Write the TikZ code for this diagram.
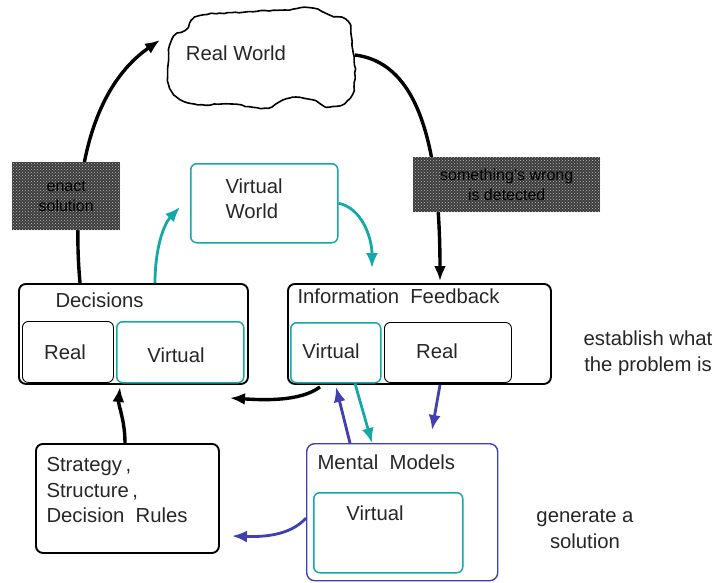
\documentclass[tikz,border=0pt]{standalone}
\usepackage{fontspec}
\setmainfont{Liberation Sans}
\usetikzlibrary{arrows.meta,decorations.pathmorphing,patterns,calc}
\definecolor{tealc}{RGB}{20,168,168}
\definecolor{bluec}{RGB}{64,64,176}
\definecolor{grayc}{RGB}{60,60,60}
\begin{document}
\begin{tikzpicture}[x=1pt,y=-1pt,
  every node/.style={font=\fontsize{20.3}{25.5}\selectfont, text=black!85},
  bbox/.style={draw=black, line width=1.9pt, rounded corners=7pt, anchor=north west, inner sep=0pt},
  ibox/.style={draw=black, line width=0.9pt, rounded corners=6pt, anchor=north west, inner sep=0pt},
  tbox/.style={draw=tealc, line width=1.5pt, rounded corners=6pt, anchor=north west, inner sep=0pt},
  ubox/.style={draw=bluec, line width=1.4pt, rounded corners=8pt, anchor=north west, inner sep=0pt},
  gbox/.style={fill=grayc, anchor=north west, inner sep=0pt},
  gtext/.style={font=\fontsize{16}{20}\selectfont, text=black, align=center},
  blk/.style={draw=black, line width=3.4pt, -{Latex[length=15pt,width=12pt]}},
  tarr/.style={draw=tealc, line width=2.8pt, -{Latex[length=15pt,width=12pt]}},
  uarr/.style={draw=bluec, line width=2.8pt, -{Latex[length=15pt,width=12pt]}}]
\useasboundingbox (0,0) rectangle (716,582);

% cloud
\node[minimum width=185pt, minimum height=95pt] (cloud) at (262,58) {};
\pgfmathsetseed{7}
\draw[line width=1.6pt, fill=white, decorate, decoration={random steps, segment length=4pt, amplitude=0.6pt}]
  plot[smooth cycle, tension=0.7] coordinates {(200,16) (245,12) (285,10) (310,8) (330,15) (348,22) (352,45) (355,75) (350,98) (330,107) (312,100) (290,98) (265,108) (230,104) (195,104) (172,92) (168,65) (172,40) (185,30)};
\node (rw) at (236,53) {Real World};
\coordinate (cloudin) at (160,40);
\coordinate (cloudout) at (355,55);

% boxes
\node[tbox, minimum width=147pt, minimum height=79pt] (vw) at (190,163) {};
\node[align=left, anchor=north west] (vwt) at (222,175) {Virtual\\World};

\node[bbox, minimum width=229pt, minimum height=100pt] (dec) at (18,283) {};
\node[anchor=west] (dect) at (52,300) {Decisions};
\node[ibox, minimum width=91pt, minimum height=61pt] (decr) at (22,321) {};
\node (decrt) at (65,352) {Real};
\node[tbox, minimum width=127pt, minimum height=61pt] (decv) at (116,321) {};
\node (decvt) at (176,355) {Virtual};

\node[bbox, minimum width=263pt, minimum height=100pt] (ifb) at (287,283) {};
\node[anchor=west] (ifbt) at (294,296) {Information\ \ Feedback};
\node[tbox, minimum width=90pt, minimum height=60pt] (ifv) at (290,322) {};
\node (ifvt) at (331,351) {Virtual};
\node[ibox, minimum width=127pt, minimum height=60pt] (ifr) at (384,322) {};
\node (ifrt) at (437,351) {Real};

\node[ubox, minimum width=191pt, minimum height=137pt] (mm) at (306,443) {};
\node[anchor=west] (mmt) at (314,462) {Mental\ \ Models};
\node[tbox, minimum width=149pt, minimum height=80pt] (mmv) at (313,492) {};
\node (mmvt) at (375,513) {Virtual};

\node[bbox, minimum width=183pt, minimum height=109pt] (str) at (35,443) {};
\node[anchor=north west, align=left] (strt) at (43,454) {Strategy\,,\\Structure\,,\\Decision\ \ Rules};

\node[align=center] (est) at (648,353) {establish what\\the problem is};
\node[align=center] (gen) at (585,529) {generate a\\solution};

% connectors
\draw[blk] ($(dec.north west)+(62,0)$) .. controls (70,170) and (95,85) .. (cloudin);
\draw[blk] (cloudout) .. controls (412,62) and (440,130) .. ($(ifb.north west)+(153,-2)$);
\draw[tarr] (vw.east) .. controls (362,208) and (372,238) .. (372,268);
\draw[tarr] ($(dec.north west)+(137,0)$) .. controls (155,250) and (163,225) .. (180,207);
\draw[blk] ($(ifb.south west)+(33,2)$) .. controls (300,402) and (262,400) .. (230,398);
\draw[uarr] ($(mm.north west)+(44,0)$) -- (336,387);
\draw[tarr] ($(ifv.south west)+(65,0)$) -- ($(mm.north west)+(66,0)$);
\draw[uarr] ($(ifr.south west)+(56,2)$) -- (432,430);
\draw[uarr] (mm.west |- 0,518) .. controls (290,536) and (262,537) .. (232,536);
\draw[blk] ($(str.north west)+(90,0)$) .. controls (125,420) and (118,405) .. (120,387);

% gray boxes (on top of the arrows)
\node[gbox, minimum width=108pt, minimum height=68pt] (g1) at (12,162) {};
\node[gbox, minimum width=187pt, minimum height=55pt] (g2) at (413,157) {};
\fill[pattern=crosshatch dots, pattern color=gray!55] (g1.south west) rectangle (g1.north east);
\fill[pattern=crosshatch dots, pattern color=gray!55] (g2.south west) rectangle (g2.north east);
\node[gtext] (g1t) at (g1.center) {enact\\solution};
\node[gtext] (g2t) at (g2.center) {something's wrong\\is detected};
\end{tikzpicture}
\end{document}
